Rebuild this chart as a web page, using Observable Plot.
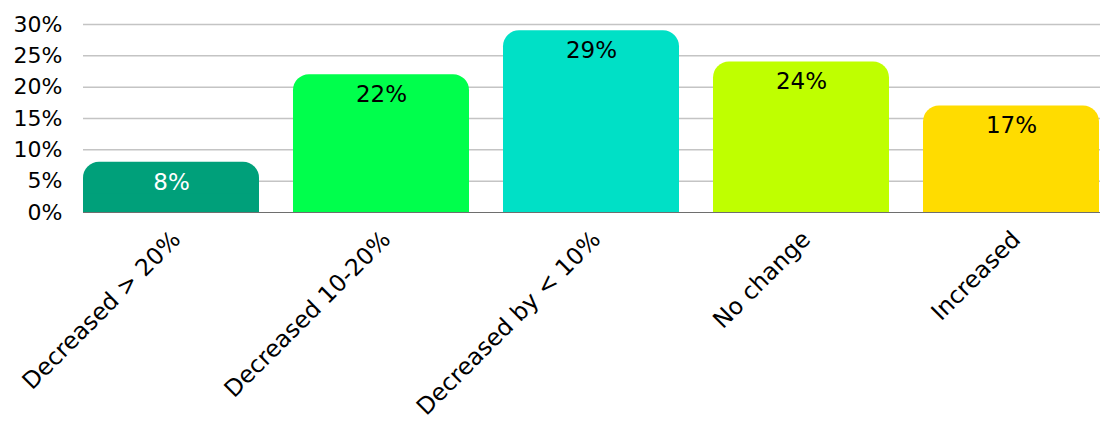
<!DOCTYPE html>
<html>
<head>
<meta charset="utf-8">
<script src="https://cdn.jsdelivr.net/npm/d3@7"></script>
<script src="https://cdn.jsdelivr.net/npm/@observablehq/plot@0.6"></script>
<style>
  html, body { margin: 0; padding: 0; background: #fff; }
  #chart { width: 1100px; height: 425px; }
</style>
</head>
<body>
<div id="chart"></div>
<script>
// Survey responses: change reported, share of respondents (%)
const categories = ["Decreased > 20%", "Decreased 10-20%", "Decreased by < 10%", "No change", "Increased"];
const shares = [8, 22, 29, 24, 17];
const barColors = ["#00A07A", "#00FF4C", "#00E0C6", "#BFFF00", "#FFDC00"];
const labelColors = ["#ffffff", "#000000", "#000000", "#000000", "#000000"];
const yTicks = [0, 5, 10, 15, 20, 25, 30];

const data = categories.map((c, i) => ({
  category: c,
  share: shares[i],
  fill: barColors[i],
  labelFill: labelColors[i],
  // squared-off base that hides the lower rounded corners
  base: Math.min(shares[i], 3)
}));

const font = "'DejaVu Sans', sans-serif";

const chart = Plot.plot({
  width: 1100,
  height: 425,
  marginLeft: 83,
  marginRight: 0,
  marginTop: 24,
  marginBottom: 213,
  style: { fontFamily: font, fontSize: "22px", color: "#000", background: "#fff" },
  x: {
    domain: categories,
    paddingInner: 0.16,
    paddingOuter: 0
  },
  y: {
    domain: [0, 30]
  },
  marks: [
    Plot.ruleY(yTicks.filter(t => t > 0), { stroke: "#c4c4c4", strokeWidth: 1.5 }),
    Plot.ruleY([0], { stroke: "#6e6e6e", strokeWidth: 1 }),
    Plot.axisY({
      ticks: yTicks,
      tickFormat: d => d + "%",
      label: null,
      tickSize: 0,
      tickPadding: 21
    }),
    Plot.axisX({
      label: null,
      tickSize: 0,
      tickRotate: -45,
      tickPadding: 23,
      dx: 5,
      fontSize: 23.5
    }),
    Plot.barY(data, { x: "category", y: "share", fill: "fill", rx: 16 }),
    Plot.barY(data, { x: "category", y: "base", fill: "fill" }),
    Plot.text(data, {
      x: "category",
      y: "share",
      text: d => d.share + "%",
      fill: "labelFill",
      dy: 20,
      fontSize: 23
    })
  ]
});

document.getElementById("chart").appendChild(chart);
</script>
</body>
</html>
